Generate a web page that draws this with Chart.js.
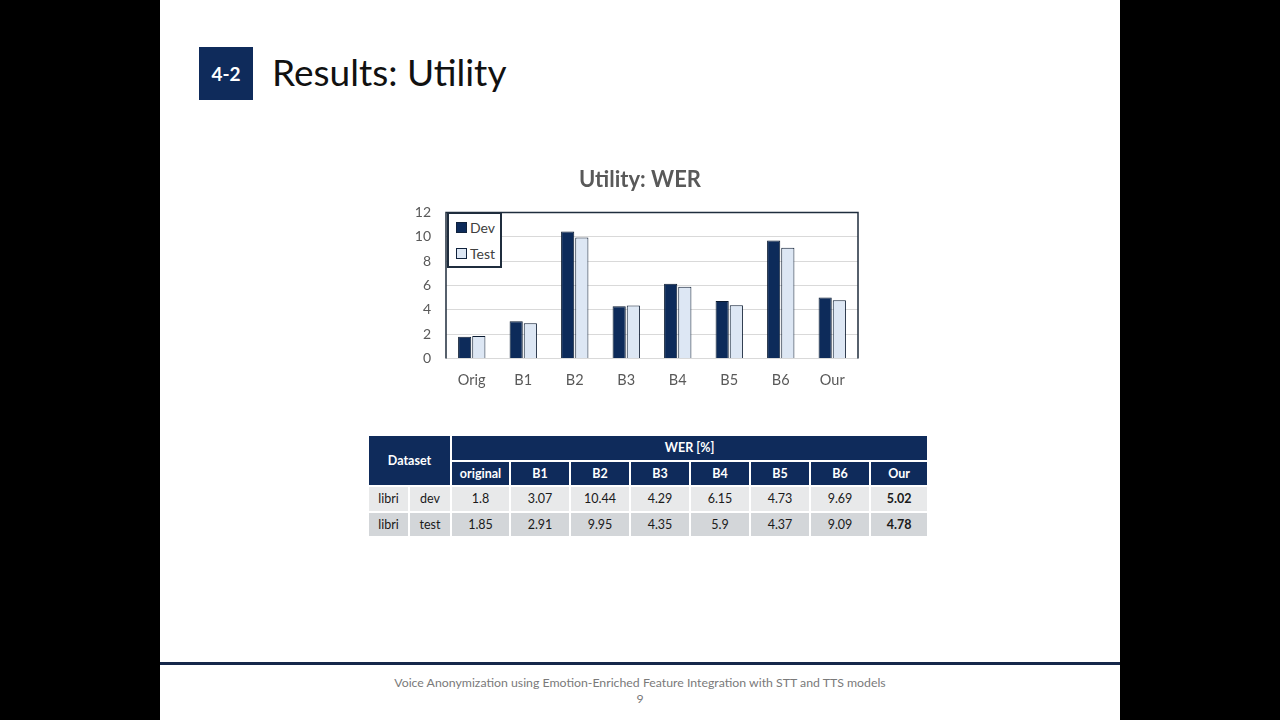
<!DOCTYPE html>
<html>
<head>
<meta charset="utf-8">
<script src="https://cdn.jsdelivr.net/npm/chart.js@4.4.0/dist/chart.umd.min.js"></script>
<style>
    html, body { margin: 0; padding: 0; background: #000; }
    body { width: 1280px; height: 720px; position: relative; overflow: hidden; font-family: Lato, 'Open Sans', sans-serif; }
    #slide { position: absolute; left: 160px; top: 0; width: 960px; height: 720px; background: #fff; }
    #secBox { position: absolute; left: 199px; top: 47px; width: 54px; height: 53px; background: #0f2b5b; color: #fff; font-weight: bold; font-size: 19px; line-height: 53px; text-align: center; }
    #slideTitle { position: absolute; left: 272px; top: 48px; font-size: 37px; color: #111; line-height: 48px; white-space: nowrap; }
    #chartWrap { position: absolute; left: 380px; top: 155px; width: 520px; height: 258px; }
    #legendBox { position: absolute; background: #fff; border: 2px solid #1f2d3d; box-sizing: border-box; padding: 0 0 0 7px; }
    .legItem { display: flex; align-items: center; height: 26px; font-size: 14px; color: #404040; }
    .legItem span.sw { display: inline-block; width: 9px; height: 9px; margin-right: 3px; border: 1px solid #10223c; }
    #wer { position: absolute; left: 367px; top: 434px; width: 560px; border-collapse: collapse; table-layout: fixed; font-size: 12.5px; }
    #wer td { border: 2px solid #fff; text-align: center; padding: 0; height: 23.6px; color: #1a1a1a; }
    #wer td.hd { background: #0f2b5b; color: #fff; font-weight: bold; }
    #wer tr.r1 td { background: #e8e9ea; }
    #wer tr.r2 td { background: #d3d6d9; }
    #wer td.b { font-weight: bold; }
    #footLine { position: absolute; left: 160px; top: 662px; width: 960px; height: 3px; background: #16284a; }
    #footText { position: absolute; left: 160px; width: 960px; top: 675px; text-align: center; font-size: 12.3px; color: #7a7a7a; line-height: 16px; }
</style>
</head>
<body>
<div id="slide"></div>
<div id="secBox">4-2</div>
<div id="slideTitle">Results: Utility</div>
<div id="chartWrap"><canvas id="myChart" width="520" height="258"></canvas></div>
<div id="legendBox"></div>
<table id="wer"></table>
<div id="footLine"></div>
<div id="footText">Voice Anonymization using Emotion-Enriched Feature Integration with STT and TTS models<br>9</div>

<script>
// chart data
const categories = ['Orig', 'B1', 'B2', 'B3', 'B4', 'B5', 'B6', 'Our'];
const devValues = [1.8, 3.07, 10.44, 4.29, 6.15, 4.73, 9.69, 5.02];
const testValues = [1.85, 2.91, 9.95, 4.35, 5.9, 4.37, 9.09, 4.78];
const seriesNames = ['Dev', 'Test'];
const tableHeaders = ['original', 'B1', 'B2', 'B3', 'B4', 'B5', 'B6', 'Our'];
const rowNames = [['libri', 'dev'], ['libri', 'test']];

const buildTable = () => {
    const table = document.getElementById('wer');
    const widths = [41, 42, 59, 60, 60, 60, 60, 60, 60, 58];
    const cg = document.createElement('colgroup');
    widths.forEach(w => {
        const c = document.createElement('col');
        c.style.width = w + 'px';
        cg.appendChild(c);
    });
    table.appendChild(cg);

    const tr0 = document.createElement('tr');
    const dset = document.createElement('td');
    dset.className = 'hd';
    dset.colSpan = 2;
    dset.rowSpan = 2;
    dset.textContent = 'Dataset';
    tr0.appendChild(dset);
    const werTd = document.createElement('td');
    werTd.className = 'hd';
    werTd.colSpan = tableHeaders.length;
    werTd.textContent = 'WER [%]';
    tr0.appendChild(werTd);
    table.appendChild(tr0);

    const tr1 = document.createElement('tr');
    tableHeaders.forEach(h => {
        const td = document.createElement('td');
        td.className = 'hd';
        td.textContent = h;
        tr1.appendChild(td);
    });
    table.appendChild(tr1);

    [devValues, testValues].forEach((vals, i) => {
        const tr = document.createElement('tr');
        tr.className = 'r' + (i + 1);
        rowNames[i].forEach(n => {
            const td = document.createElement('td');
            td.textContent = n;
            tr.appendChild(td);
        });
        vals.forEach((v, j) => {
            const td = document.createElement('td');
            td.textContent = String(v);
            if (j === vals.length - 1) td.className = 'b';
            tr.appendChild(td);
        });
        table.appendChild(tr);
    });
};

// dark frame on top / left / right of the plot area
const plotFrame = {
    id: 'plotFrame',
    afterDraw(chart) {
        const { ctx, chartArea: a } = chart;
        ctx.save();
        ctx.strokeStyle = '#1f2d3d';
        ctx.lineWidth = 1.5;
        ctx.beginPath();
        ctx.moveTo(a.left, a.bottom);
        ctx.lineTo(a.left, a.top);
        ctx.lineTo(a.right, a.top);
        ctx.lineTo(a.right, a.bottom);
        ctx.stroke();
        ctx.restore();
    }
};

// title centred over the whole canvas, not just the padded box
const centerTitle = {
    id: 'centerTitle',
    afterLayout(chart) {
        if (chart.titleBlock) {
            chart.titleBlock.left = 0;
            chart.titleBlock.right = chart.width;
        }
    }
};

// legend as a box sitting inside the plot area
const htmlLegend = {
    id: 'htmlLegend',
    afterUpdate(chart) {
        const box = document.getElementById('legendBox');
        while (box.firstChild) {
            box.firstChild.remove();
        }
        chart.data.datasets.forEach(ds => {
            const item = document.createElement('div');
            item.className = 'legItem';
            const sw = document.createElement('span');
            sw.className = 'sw';
            sw.style.background = ds.backgroundColor;
            item.appendChild(sw);
            item.appendChild(document.createTextNode(ds.label));
            box.appendChild(item);
        });
        const wrap = document.getElementById('chartWrap');
        const a = chart.chartArea;
        box.style.left = (wrap.offsetLeft + a.left + 1) + 'px';
        box.style.top = (wrap.offsetTop + a.top) + 'px';
        box.style.width = '55px';
        box.style.height = '56px';
    }
};

function makeChart() {
    const ctx = document.getElementById('myChart').getContext('2d');
    const data = {
        labels: categories,
        datasets: [
            {
                label: seriesNames[0],
                data: devValues,
                backgroundColor: '#0d2b5a',
                borderColor: '#0a1a30',
                borderWidth: 1
            },
            {
                label: seriesNames[1],
                data: testValues,
                backgroundColor: '#dde7f4',
                borderColor: '#0a1a30',
                borderWidth: 1
            }
        ]
    };
    new Chart(ctx, {
        type: 'bar',
        data: data,
        options: {
            responsive: false,
            animation: false,
            layout: {
                padding: { top: 12, right: 42, left: 0, bottom: 11 }
            },
            datasets: {
                bar: {
                    categoryPercentage: 0.55,
                    barPercentage: 0.93
                }
            },
            scales: {
                x: {
                    grid: { display: false, drawTicks: false },
                    border: { display: false },
                    ticks: {
                        padding: 13,
                        color: '#595959',
                        font: { size: 14.5, family: 'Lato' }
                    }
                },
                y: {
                    min: 0,
                    max: 12,
                    afterFit: (scale) => { scale.width = 66; },
                    grid: { color: '#d9d9d9', drawTicks: false },
                    border: { display: false },
                    ticks: {
                        stepSize: 2,
                        padding: 15,
                        color: '#595959',
                        font: { size: 14, family: 'Lato' }
                    }
                }
            },
            plugins: {
                title: {
                    display: true,
                    text: 'Utility: WER',
                    color: '#595959',
                    font: { size: 22, weight: 'bold', family: 'Lato' },
                    padding: { top: 0, bottom: 19 }
                },
                legend: { display: false },
                tooltip: { enabled: false }
            }
        },
        plugins: [plotFrame, centerTitle, htmlLegend]
    });
}

buildTable();
makeChart();
</script>
</body>
</html>
